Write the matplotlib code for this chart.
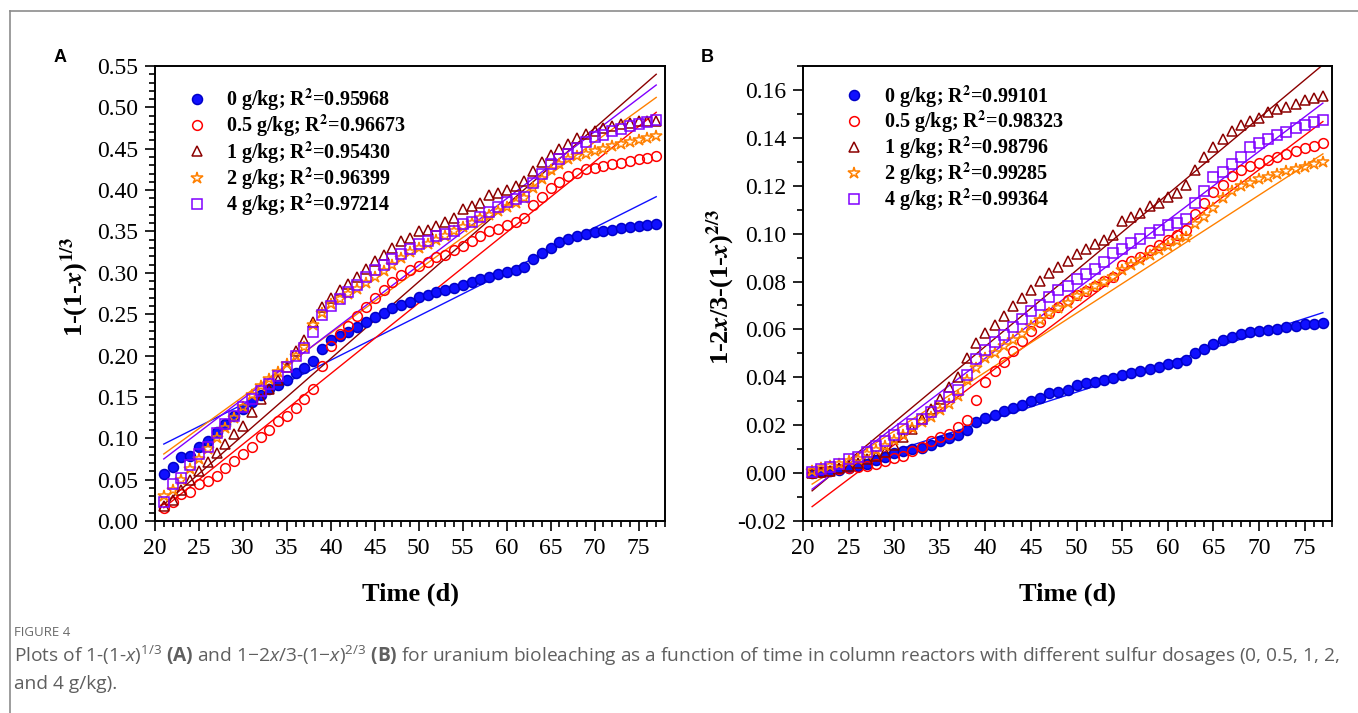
import numpy as np
import matplotlib
matplotlib.use("Agg")
import matplotlib.pyplot as plt
from matplotlib.lines import Line2D
from matplotlib.ticker import MultipleLocator, FormatStrFormatter

plt.rcParams['mathtext.fontset'] = 'custom'
plt.rcParams['mathtext.rm'] = 'Open Sans'
plt.rcParams['mathtext.it'] = 'Open Sans:italic'
plt.rcParams['mathtext.bf'] = 'Open Sans:bold'

# ---------------- data ----------------
days = list(range(21, 78))
dosage_labels = ["0 g/kg", "0.5 g/kg", "1 g/kg", "2 g/kg", "4 g/kg"]
r2_A = ["0.95968", "0.96673", "0.95430", "0.96399", "0.97214"]
r2_B = ["0.99101", "0.98323", "0.98796", "0.99285", "0.99364"]

A_0 = [0.057, 0.065, 0.077, 0.079, 0.089, 0.097, 0.107, 0.117, 0.127, 0.135,
       0.144, 0.152, 0.160, 0.165, 0.171, 0.179, 0.185, 0.194, 0.208, 0.219,
       0.224, 0.229, 0.235, 0.240, 0.246, 0.252, 0.257, 0.261, 0.265, 0.271,
       0.273, 0.277, 0.279, 0.282, 0.285, 0.289, 0.292, 0.295, 0.299, 0.301,
       0.303, 0.307, 0.317, 0.324, 0.330, 0.337, 0.341, 0.345, 0.347, 0.349,
       0.350, 0.352, 0.354, 0.355, 0.357, 0.358, 0.359]
A_05 = [0.016, 0.023, 0.033, 0.035, 0.045, 0.048, 0.055, 0.064, 0.072, 0.081,
        0.089, 0.102, 0.110, 0.121, 0.127, 0.136, 0.148, 0.159, 0.187, 0.211,
        0.226, 0.236, 0.248, 0.259, 0.270, 0.279, 0.289, 0.297, 0.303, 0.308,
        0.313, 0.319, 0.321, 0.327, 0.332, 0.338, 0.344, 0.350, 0.353, 0.358,
        0.362, 0.366, 0.382, 0.392, 0.402, 0.410, 0.417, 0.421, 0.425, 0.427,
        0.429, 0.431, 0.433, 0.435, 0.437, 0.439, 0.441]
A_1 = [0.018, 0.025, 0.038, 0.050, 0.061, 0.071, 0.082, 0.093, 0.105, 0.115,
       0.132, 0.148, 0.160, 0.170, 0.186, 0.206, 0.219, 0.241, 0.259, 0.270,
       0.279, 0.287, 0.295, 0.305, 0.314, 0.322, 0.330, 0.338, 0.342, 0.350,
       0.352, 0.356, 0.361, 0.366, 0.377, 0.381, 0.385, 0.394, 0.396, 0.400,
       0.405, 0.411, 0.423, 0.434, 0.443, 0.450, 0.456, 0.463, 0.468, 0.471,
       0.475, 0.477, 0.480, 0.481, 0.483, 0.484, 0.483]
A_2 = [0.030, 0.038, 0.050, 0.063, 0.075, 0.087, 0.100, 0.112, 0.125, 0.138,
       0.152, 0.163, 0.172, 0.180, 0.190, 0.200, 0.210, 0.237, 0.252, 0.262,
       0.268, 0.275, 0.281, 0.288, 0.295, 0.302, 0.310, 0.318, 0.325, 0.330,
       0.335, 0.340, 0.345, 0.350, 0.355, 0.360, 0.366, 0.370, 0.375, 0.380,
       0.384, 0.390, 0.402, 0.413, 0.424, 0.432, 0.437, 0.441, 0.444, 0.447,
       0.450, 0.453, 0.456, 0.458, 0.461, 0.463, 0.465]
A_4 = [0.023, 0.045, 0.052, 0.068, 0.081, 0.089, 0.106, 0.117, 0.127, 0.138,
       0.148, 0.157, 0.166, 0.175, 0.186, 0.200, 0.209, 0.229, 0.249, 0.260,
       0.268, 0.277, 0.285, 0.295, 0.303, 0.310, 0.317, 0.323, 0.329, 0.335,
       0.339, 0.344, 0.347, 0.351, 0.359, 0.362, 0.368, 0.374, 0.380, 0.386,
       0.389, 0.392, 0.408, 0.420, 0.432, 0.437, 0.444, 0.451, 0.458, 0.464,
       0.467, 0.471, 0.474, 0.477, 0.480, 0.482, 0.485]
# linear fits: value at day 21 and day 77
fitA_start = [0.093, 0.016, 0.020, 0.081, 0.075]
fitA_end = [0.392, 0.494, 0.540, 0.512, 0.527]

B_0 = [0.0000, 0.0005, 0.0010, 0.0015, 0.0020, 0.0030, 0.0040, 0.0055, 0.0068, 0.0082,
       0.0093, 0.0100, 0.0105, 0.0118, 0.0133, 0.0145, 0.0160, 0.0180, 0.0212, 0.0230,
       0.0244, 0.0258, 0.0270, 0.0286, 0.0300, 0.0314, 0.0334, 0.0340, 0.0349, 0.0366,
       0.0375, 0.0382, 0.0390, 0.0398, 0.0408, 0.0417, 0.0426, 0.0435, 0.0442, 0.0454,
       0.0459, 0.0473, 0.0500, 0.0520, 0.0540, 0.0557, 0.0570, 0.0582, 0.0589, 0.0592,
       0.0599, 0.0603, 0.0610, 0.0614, 0.0621, 0.0624, 0.0628]
B_05 = [0.0000, 0.0005, 0.0010, 0.0017, 0.0021, 0.0027, 0.0031, 0.0038, 0.0049, 0.0061,
        0.0073, 0.0094, 0.0107, 0.0133, 0.0152, 0.0163, 0.0191, 0.0222, 0.0305, 0.0379,
        0.0427, 0.0465, 0.0511, 0.0553, 0.0592, 0.0630, 0.0667, 0.0692, 0.0723, 0.0742,
        0.0762, 0.0783, 0.0801, 0.0818, 0.0868, 0.0885, 0.0903, 0.0933, 0.0952, 0.0973,
        0.0994, 0.1015, 0.1084, 0.1130, 0.1173, 0.1204, 0.1241, 0.1266, 0.1283, 0.1294,
        0.1308, 0.1322, 0.1332, 0.1346, 0.1357, 0.1367, 0.1378]
B_1 = [0.0000, 0.0003, 0.0010, 0.0020, 0.0030, 0.0042, 0.0058, 0.0072, 0.0090, 0.0119,
       0.0152, 0.0184, 0.0225, 0.0268, 0.0310, 0.0361, 0.0403, 0.0480, 0.0543, 0.0585,
       0.0620, 0.0655, 0.0696, 0.0733, 0.0766, 0.0801, 0.0837, 0.0861, 0.0885, 0.0917,
       0.0937, 0.0955, 0.0973, 0.0994, 0.1052, 0.1070, 0.1087, 0.1117, 0.1129, 0.1154,
       0.1171, 0.1203, 0.1266, 0.1319, 0.1361, 0.1396, 0.1429, 0.1453, 0.1471, 0.1482,
       0.1510, 0.1521, 0.1528, 0.1542, 0.1556, 0.1566, 0.1576]
B_2 = [0.0010, 0.0020, 0.0030, 0.0040, 0.0050, 0.0060, 0.0078, 0.0095, 0.0115, 0.0140,
       0.0160, 0.0190, 0.0215, 0.0235, 0.0262, 0.0290, 0.0322, 0.0390, 0.0440, 0.0480,
       0.0500, 0.0530, 0.0555, 0.0582, 0.0615, 0.0640, 0.0668, 0.0690, 0.0712, 0.0738,
       0.0760, 0.0780, 0.0800, 0.0820, 0.0850, 0.0870, 0.0890, 0.0910, 0.0930, 0.0950,
       0.0970, 0.0987, 0.1040, 0.1070, 0.1105, 0.1150, 0.1180, 0.1200, 0.1210, 0.1227,
       0.1238, 0.1250, 0.1260, 0.1269, 0.1280, 0.1290, 0.1300]
B_4 = [0.0003, 0.0017, 0.0024, 0.0040, 0.0059, 0.0066, 0.0087, 0.0114, 0.0135, 0.0160,
       0.0184, 0.0205, 0.0226, 0.0254, 0.0280, 0.0318, 0.0345, 0.0408, 0.0477, 0.0512,
       0.0547, 0.0575, 0.0610, 0.0645, 0.0677, 0.0703, 0.0736, 0.0766, 0.0780, 0.0812,
       0.0833, 0.0854, 0.0882, 0.0920, 0.0934, 0.0959, 0.0976, 0.1003, 0.1015, 0.1036,
       0.1045, 0.1060, 0.1129, 0.1180, 0.1238, 0.1259, 0.1291, 0.1322, 0.1361, 0.1380,
       0.1395, 0.1412, 0.1425, 0.1440, 0.1454, 0.1465, 0.1475]
fitB_start = [-0.0018, -0.0140, -0.0074, -0.0046, -0.0067]
fitB_end = [0.0670, 0.1468, 0.1705, 0.1333, 0.1545]
fit_days = [21, 77]

# ---------------- style ----------------
colors = ['#1010ff', '#ff0000', '#8b0000', '#ff8000', '#8000ff']
markers = ['o', 'o', '^', '*', 's']
msizes = [7.2, 7.0, 7.8, 8.8, 6.5]
filled = [True, False, False, False, False]

W, H = 1358, 713
fig = plt.figure(figsize=(W / 100, H / 100), dpi=100)
serif = 'Liberation Serif'

def px_axes(l, r, t, b):
    return [l / W, 1 - b / H, (r - l) / W, (b - t) / H]

axA = fig.add_axes(px_axes(155, 665, 66, 521))
axB = fig.add_axes(px_axes(803, 1332, 66, 521))

def draw_panel(ax, series, fs, fe, r2, ylim, ymajor, yminor, ylabel, leg_anchor, ylab_x, lsp):
    handles = []
    for i, ys in enumerate(series):
        ax.plot(fit_days, [fs[i], fe[i]], color=colors[i], lw=1.0, zorder=2)
    for i, ys in enumerate(series):
        c = colors[i]
        fc = c if filled[i] else 'none'
        ec = '#0000c8' if filled[i] else c
        ax.plot(days, ys, linestyle='none', marker=markers[i], ms=msizes[i],
                mfc=fc, mec=ec, mew=1.1, zorder=3, clip_on=False)
        handles.append(Line2D([], [], linestyle='none', marker=markers[i], ms=msizes[i],
                              mfc=fc, mec=ec, mew=1.1))
    labels = [f"{dosage_labels[i]}; R$^{{\\mathbf{{2}}}}$={r2[i]}" for i in range(5)]
    leg = ax.legend(handles, labels, loc='upper left', bbox_to_anchor=leg_anchor,
                    frameon=False, borderpad=0, borderaxespad=0, handlelength=1.0,
                    handletextpad=0.95, labelspacing=lsp,
                    prop={'family': serif, 'weight': 'bold', 'size': 14.5})
    for t in leg.get_texts():
        t.set_math_fontfamily('stix')
    ax.set_xlim(20, 78)
    ax.set_ylim(*ylim)
    ax.xaxis.set_major_locator(MultipleLocator(5))
    ax.xaxis.set_minor_locator(MultipleLocator(1))
    ax.yaxis.set_major_locator(MultipleLocator(ymajor))
    ax.yaxis.set_minor_locator(MultipleLocator(yminor))
    ax.yaxis.set_major_formatter(FormatStrFormatter('%.2f'))
    ax.tick_params(which='both', direction='out', top=False, right=False, width=1.2,
                   labelsize=17, pad=5)
    ax.tick_params(which='major', length=7)
    ax.tick_params(which='minor', length=4)
    for lab in ax.get_xticklabels() + ax.get_yticklabels():
        lab.set_fontfamily(serif)
    for sp in ax.spines.values():
        sp.set_linewidth(1.4)
    ax.set_xlabel('Time (d)', fontfamily=serif, fontweight='bold', fontsize=19)
    ax.xaxis.set_label_coords(0.5, -0.135)
    yl = ax.set_ylabel(ylabel, fontfamily=serif, fontweight='bold', fontsize=19)
    yl.set_math_fontfamily('stix')
    ax.yaxis.set_label_coords(ylab_x, 0.515)

draw_panel(axA, [A_0, A_05, A_1, A_2, A_4], fitA_start, fitA_end, r2_A,
           (0.0, 0.55), 0.05, 0.01, r'1-(1-$\mathbfit{x}$)$^{\mathbf{1/3}}$', (0.063, 0.955),
           -0.125, 0.0)
draw_panel(axB, [B_0, B_05, B_1, B_2, B_4], fitB_start, fitB_end, r2_B,
           (-0.02, 0.17), 0.02, 0.01, r'1-2$\mathbfit{x}$/3-(1-$\mathbfit{x}$)$^{\mathbf{2/3}}$',
           (0.078, 0.962), -0.125, -0.03)

# panel letters
fig.text(60 / W, 1 - 58 / H, 'A', fontfamily='Liberation Sans', fontweight='bold',
         fontsize=13, ha='center', va='center')
fig.text(707 / W, 1 - 58 / H, 'B', fontfamily='Liberation Sans', fontweight='bold',
         fontsize=13, ha='center', va='center')

# outer frame lines
fig.add_artist(Line2D([10 / W, 1.0], [1 - 11 / H, 1 - 11 / H], color='#8c8c8c', lw=1.2))
fig.add_artist(Line2D([10 / W, 10 / W], [1 - 11 / H, 0.0], color='#8c8c8c', lw=1.2))

# caption
cap_color = '#5f5f5f'
fig.text(14 / W, 1 - 633 / H, 'FIGURE 4', fontfamily='Open Sans', fontsize=9.5,
         color='#6a6a6a', ha='left', va='center')
line1 = (r'Plots of 1-(1-$x$)$^{1/3}$ $\mathbf{(A)}$ and 1−2$x$/3-(1−$x$)$^{2/3}$ $\mathbf{(B)}$ '
         'for uranium bioleaching as a function of time in column reactors with different '
         'sulfur dosages (0, 0.5, 1, 2,')
t1 = fig.text(14 / W, 1 - 656 / H, line1, fontfamily='Open Sans', fontsize=11.5,
              color=cap_color, ha='left', va='center', math_fontfamily='custom')
t2 = fig.text(14 / W, 1 - 684 / H, 'and 4 g/kg).', fontfamily='Open Sans', fontsize=11.5,
              color=cap_color, ha='left', va='center')
fig.canvas.draw()
w1 = t1.get_window_extent().width
fs_cap = 11.5 * (1326 / w1)
t1.set_fontsize(fs_cap)
t2.set_fontsize(fs_cap)

fig.savefig('out.png', dpi=100)
